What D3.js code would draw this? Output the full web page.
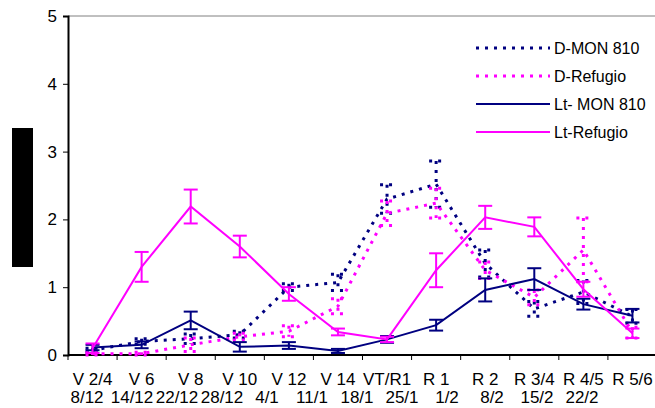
<!DOCTYPE html>
<html>
<head>
<meta charset="utf-8">
<script src="https://cdn.jsdelivr.net/npm/d3@7"></script>
<style>
  body { margin: 0; background: #fff; }
  svg { display: block; font-family: "Liberation Sans", Arial, sans-serif; }
</style>
</head>
<body>
<div id="chart"></div>
<script>
// categories (stage / date)
const stages = ['V 2/4', 'V 6', 'V 8', 'V 10', 'V 12', 'V 14', 'VT/R1', 'R 1', 'R 2', 'R 3/4', 'R 4/5', 'R 5/6'];
const dates = ['8/12', '14/12', '22/12', '28/12', '4/1', '11/1', '18/1', '25/1', '1/2', '8/2', '15/2', '22/2'];
const y_ticks = [0, 1, 2, 3, 4, 5];

// series values + error
const d_mon = [0.07, 0.2, 0.24, 0.3, 1.0, 1.07, 2.3, 2.52, 1.35, 0.68, 0.93, 0.57];
const d_mon_err = [0.03, 0.04, 0.07, 0.05, 0.05, 0.12, 0.21, 0.34, 0.2, 0.11, 0.17, 0.1];
const d_ref = [0.02, 0.02, 0.15, 0.27, 0.35, 0.72, 2.09, 2.24, 1.25, 0.85, 1.55, 0.33];
const d_ref_err = [0.02, 0.02, 0.1, 0.05, 0.08, 0.11, 0.18, 0.22, 0.12, 0.11, 0.47, 0.08];
const lt_mon = [0.11, 0.15, 0.51, 0.12, 0.14, 0.06, 0.23, 0.44, 0.96, 1.12, 0.75, 0.58];
const lt_mon_err = [0.04, 0.05, 0.13, 0.07, 0.05, 0.03, 0.05, 0.08, 0.17, 0.16, 0.08, 0.1];
const lt_ref = [0.1, 1.3, 2.19, 1.6, 0.9, 0.34, 0.23, 1.25, 2.03, 1.89, 0.97, 0.32];
const lt_ref_err = [0.07, 0.22, 0.25, 0.16, 0.1, 0.05, 0.04, 0.25, 0.17, 0.14, 0.11, 0.07];

const series = [
    {name: 'D-MON 810', values: d_mon, err: d_mon_err, color: '#000080', dotted: true},
    {name: 'D-Refugio', values: d_ref, err: d_ref_err, color: '#ff00ff', dotted: true},
    {name: 'Lt- MON 810', values: lt_mon, err: lt_mon_err, color: '#000080', dotted: false},
    {name: 'Lt-Refugio', values: lt_ref, err: lt_ref_err, color: '#ff00ff', dotted: false}
];

const svg_width = 655;
const svg_height = 408;
const margin = {top: 16, right: -2, bottom: 53, left: 68};
const chart_width = svg_width - margin.left - margin.right;
const chart_height = svg_height - margin.top - margin.bottom;

const svg = d3.select('#chart').append('svg')
    .attr('width', svg_width)
    .attr('height', svg_height);

const g = svg.append('g').attr('transform', `translate(${margin.left},${margin.top})`);

const x_scale = d3.scaleBand().domain(stages).range([0, chart_width]);
const y_scale = d3.scaleLinear([0, 5], [chart_height, 0]);
const cx = i => x_scale(stages[i]) + x_scale.bandwidth() / 2;
// date row sits on its own, tighter spacing (wrapped labels in the source)
const date_scale = d3.scalePoint().domain(dates).range([19, 514]);

// top border line
g.append('line')
    .attr('x1', 0).attr('x2', chart_width)
    .attr('y1', y_scale(5)).attr('y2', y_scale(5))
    .attr('stroke', '#808080').attr('stroke-width', 1);

// y axis
const y_axis = g.append('g')
    .call(d3.axisLeft(y_scale).tickValues(y_ticks).tickFormat(d3.format('d')).tickSize(5).tickPadding(6));
y_axis.select('.domain').attr('stroke', '#000').attr('stroke-width', 2);
y_axis.selectAll('.tick line').attr('stroke', '#000');
y_axis.selectAll('text').style('font-size', '17px').attr('fill', '#000');

// x axis: ticks at category boundaries
const x_axis = g.append('g').attr('transform', `translate(0,${chart_height})`);
x_axis.append('line')
    .attr('x1', 0).attr('x2', chart_width)
    .attr('stroke', '#000').attr('stroke-width', 2);
x_axis.selectAll('.xtick').data(stages).join('line')
    .attr('class', 'xtick')
    .attr('x1', d => x_scale(d)).attr('x2', d => x_scale(d))
    .attr('y1', 0).attr('y2', 5)
    .attr('stroke', '#000');
x_axis.selectAll('.xlab1').data(stages).join('text')
    .attr('class', 'xlab1')
    .attr('x', (d, i) => cx(i)).attr('y', 30)
    .attr('text-anchor', 'middle')
    .style('font-size', '17px')
    .text(d => d);
x_axis.selectAll('.xlab2').data(dates).join('text')
    .attr('class', 'xlab2')
    .attr('x', d => date_scale(d)).attr('y', 48)
    .attr('text-anchor', 'middle')
    .style('font-size', '17px')
    .text(d => d);

// y axis title (blacked out in the source)
svg.append('rect')
    .attr('x', 12).attr('y', 128)
    .attr('width', 21).attr('height', 139)
    .attr('fill', '#000');

// lines + error bars
const line = d3.line().x((d, i) => cx(i)).y(d => y_scale(d));
const cap = 7;

series.forEach(s => {
    const dash = s.dotted ? '3,6' : null;
    const sw = s.dotted ? 3 : 2;
    const eb = g.append('g');
    s.values.forEach((v, i) => {
        const x = cx(i);
        const y1 = y_scale(v + s.err[i]);
        const y2 = y_scale(Math.max(0, v - s.err[i]));
        eb.append('line').attr('x1', x).attr('x2', x).attr('y1', y1).attr('y2', y2);
        eb.append('line').attr('x1', x - cap).attr('x2', x + cap).attr('y1', y1).attr('y2', y1);
        eb.append('line').attr('x1', x - cap).attr('x2', x + cap).attr('y1', y2).attr('y2', y2);
    });
    eb.selectAll('line')
        .attr('stroke', s.color)
        .attr('stroke-width', sw)
        .attr('stroke-dasharray', dash);

    g.append('path')
        .datum(s.values)
        .attr('d', line)
        .attr('fill', 'none')
        .attr('stroke', s.color)
        .attr('stroke-width', sw)
        .attr('stroke-dasharray', dash);
});

// legend
const legend = svg.append('g').attr('transform', 'translate(476,48)');
const items = legend.selectAll('g').data(series).join('g')
    .attr('transform', (d, i) => `translate(0,${i * 28})`);
items.append('line')
    .attr('x1', 0).attr('x2', 74)
    .attr('stroke', d => d.color)
    .attr('stroke-width', d => d.dotted ? 3 : 2)
    .attr('stroke-dasharray', d => d.dotted ? '3,6' : null);
items.append('text')
    .attr('x', 78).attr('y', 6)
    .style('font-size', '16px')
    .text(d => d.name);
</script>
</body>
</html>
